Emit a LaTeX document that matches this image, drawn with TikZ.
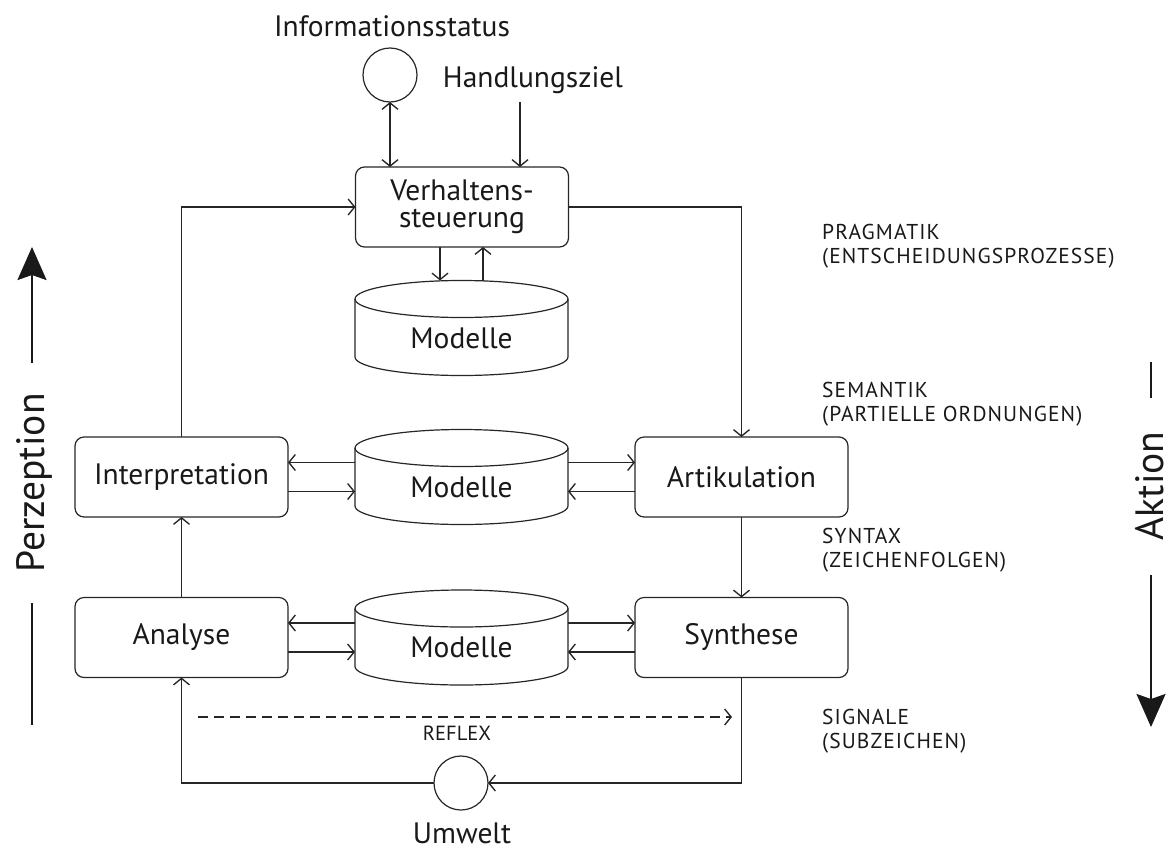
\documentclass[tikz,border=0pt]{standalone}
\usepackage{fontspec}
\setmainfont{PT Sans}
\newfontfamily\capsfont[LetterSpace=5]{PT Sans}
\usetikzlibrary{arrows.meta}
\begin{document}
\begin{tikzpicture}[x=1pt,y=-1pt,
  lbl/.style={font=\fontsize{29.5}{27.5}\selectfont, text=black!90},
  box/.style={lbl, draw=black!85, line width=1.2pt, rounded corners=9pt,
    minimum width=213pt, minimum height=80pt, align=center, inner sep=0pt, outer sep=0pt},
  con/.style={draw=black!85, line width=1.25pt,
    -{Straight Barb[length=6.5pt,width=16pt,line width=1.35pt]}},
  dcon/.style={con, {Straight Barb[length=6.5pt,width=16pt,line width=1.35pt]}-{Straight Barb[length=6.5pt,width=16pt,line width=1.35pt]}},
  level/.style={font=\capsfont\fontsize{21.5}{24}\selectfont, text=black!90, align=left,
    anchor=west, inner sep=0pt},
  side/.style={font=\fontsize{39.5}{40}\selectfont, text=black!90, rotate=90,
    anchor=base, inner sep=0pt},
  bigarrow/.style={draw=black!90, line width=2.2pt,
    -{Stealth[length=33pt,width=29pt,inset=5pt]}},
  circ/.style={circle, draw=black!85, line width=1.2pt, minimum size=54pt,
    inner sep=0pt, outer sep=0pt},
  cyl/.style={draw=black!85, line width=1.2pt}
]
\useasboundingbox (0,0) rectangle (1175,849);

% storage cylinder: name, centre x, centre y of the body
\newcommand\modellstore[3]{%
  \node[minimum width=213pt, minimum height=58pt, inner sep=0pt, outer sep=0pt] (#1) at (#2,#3) {};
  \coordinate (#1top) at (#2,#3-47.5);
  \draw[cyl] (#2,#3-29) ellipse [x radius=106.5pt, y radius=18.5pt];
  \draw[cyl] (#2-106.5,#3-29) -- (#2-106.5,#3+29)
    arc[start angle=180, end angle=360, x radius=106.5pt, y radius=18.5pt]
    -- (#2+106.5,#3-29);
  \node[lbl] (#1text) at (#2,#3+10) {Modelle};
}

% top inputs
\node[lbl, anchor=base, inner sep=0pt] (infotext) at (392,36) {Informationsstatus};
\node[circ] (info) at (390,75) {};
\node[lbl, anchor=base, inner sep=0pt] (ziel) at (533,87) {Handlungsziel};

% process boxes
\node[box] (verh) at (462,207) {Verhaltens-\\steuerung};
\node[box] (interp) at (181.5,477) {Interpretation};
\node[box] (artik) at (741.5,477) {Artikulation};
\node[box] (analyse) at (181.5,637.5) {Analyse};
\node[box] (synth) at (741.5,637.5) {Synthese};

% model stores
\modellstore{m1}{461.5}{328}
\modellstore{m2}{461.5}{477}
\modellstore{m3}{461.5}{637.5}

% environment
\node[circ] (umw) at (461,783) {};
\node[lbl, anchor=base, inner sep=0pt] (umwtext) at (462,843) {Umwelt};

% connectors at the top
\draw[dcon] (info.south) -- (info.south |- verh.north);
\coordinate (hz) at (520,102);
\draw[con] (hz) -- (hz |- verh.north);
\coordinate (vd) at ([xshift=-22pt]verh.south);
\coordinate (vu) at ([xshift=21pt]verh.south);
\draw[con] (vd) -- (vd |- m1top);
\draw[con] (vu |- m1top) -- (vu);
\draw[con] (interp.north) |- (verh.west);
\draw[con] (verh.east) -| (artik.north);

% exchange with the model stores
\draw[con] ([yshift=14.5pt]m2.west) -- ([yshift=14.5pt]interp.east);
\draw[con] ([yshift=-14.5pt]interp.east) -- ([yshift=-14.5pt]m2.west);
\draw[con] ([yshift=14.5pt]m2.east) -- ([yshift=14.5pt]artik.west);
\draw[con] ([yshift=-14.5pt]artik.west) -- ([yshift=-14.5pt]m2.east);
\draw[con] ([yshift=14.5pt]m3.west) -- ([yshift=14.5pt]analyse.east);
\draw[con] ([yshift=-14.5pt]analyse.east) -- ([yshift=-14.5pt]m3.west);
\draw[con] ([yshift=14.5pt]m3.east) -- ([yshift=14.5pt]synth.west);
\draw[con] ([yshift=-14.5pt]synth.west) -- ([yshift=-14.5pt]m3.east);

% vertical flow
\draw[con] (analyse.north) -- (interp.south);
\draw[con] (artik.south) -- (synth.north);

% loop through the environment
\draw[con] (synth.south) |- (umw.east);
\draw[con] (umw.west) -| (analyse.south);

% reflex
\coordinate (rs) at (198,717);
\coordinate (re) at (732,717);
\draw[con, dash pattern=on 10pt off 6pt] (rs) -- (re);
\node[font=\fontsize{20.5}{24}\selectfont, text=black!90, anchor=base, inner sep=0pt] (reflex) at (457,740) {REFLEX};

% levels
\node[level] (prag) at (822,246) {PRAGMATIK\\(ENTSCHEIDUNGSPROZESSE)};
\node[level] (sem) at (822,404.5) {SEMANTIK\\(PARTIELLE ORDNUNGEN)};
\node[level] (syn) at (822,550) {SYNTAX\\(ZEICHENFOLGEN)};
\node[level] (sig) at (822,731.5) {SIGNALE\\(SUBZEICHEN)};

% perception / action axes
\node[side] (perz) at (44,483) {Perzeption};
\coordinate (pa) at (32,363);
\coordinate (pb) at (32,247);
\coordinate (pc) at (32,603);
\coordinate (pd) at (32,725);
\draw[bigarrow] (pa) -- (pb);
\draw[draw=black!90, line width=2.2pt] (pc) -- (pd);

\node[side] (akt) at (1163,486) {Aktion};
\coordinate (aa) at (1151,362);
\coordinate (ab) at (1151,398);
\coordinate (ac) at (1151,575);
\coordinate (ad) at (1151,727);
\draw[draw=black!90, line width=2.2pt] (aa) -- (ab);
\draw[bigarrow] (ac) -- (ad);
\end{tikzpicture}
\end{document}
